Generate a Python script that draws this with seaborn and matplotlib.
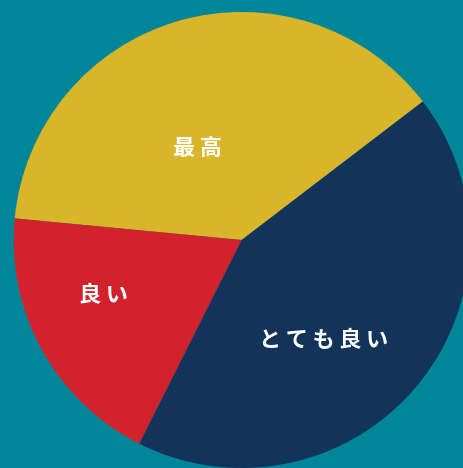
import matplotlib
matplotlib.use("Agg")
import matplotlib.pyplot as plt
import seaborn as sns

# ratings share
labels = ["最高", "良い", "とても良い"]
values = [38.1, 19.1, 42.8]
colors = ["#D9B52A", "#D2232D", "#13345A"]

# where each label sits, in pie units (radius = 1)
label_xy = [(-0.194, 0.402), (-0.604, -0.241), (0.358, -0.442)]

bg = "#008599"

sns.set_style("white")
plt.rcParams["font.family"] = ["Noto Sans CJK JP", "DejaVu Sans"]

fig = plt.figure(figsize=(4.64, 4.68), dpi=100, facecolor=bg)
# square box of 456 px centred on the pie centre (241.7, 240 from top)
ax = fig.add_axes([0.0295, 0.0, 0.9828, 0.9744])
ax.set_facecolor(bg)

ax.pie(values, colors=colors, startangle=37.4, counterclock=True,
       radius=1.0, wedgeprops=dict(linewidth=0))
ax.set_xlim(-1, 1)
ax.set_ylim(-1, 1)
ax.set_aspect("auto")
ax.axis("off")

for lab, (x, y) in zip(labels, label_xy):
    spaced = "\u2009".join(lab)
    ax.text(x, y, spaced, ha="center", va="center", color="white",
            fontsize=16, fontweight="bold")

fig.savefig("out.png", dpi=100, facecolor=bg)
